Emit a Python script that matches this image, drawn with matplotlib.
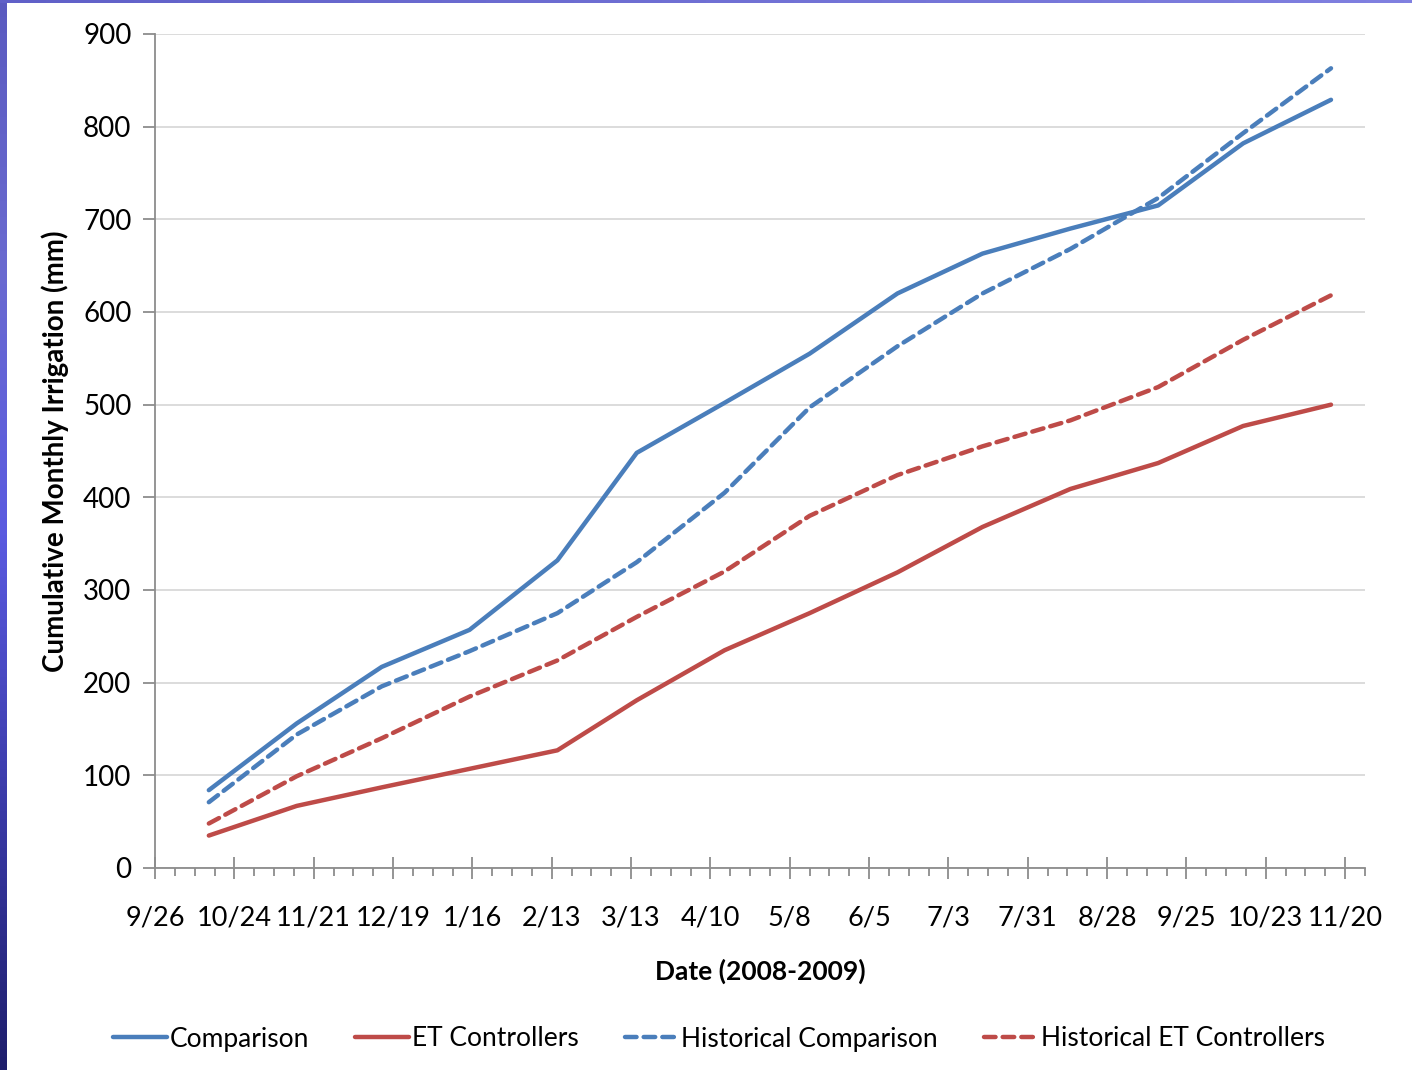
import datetime as dt
import numpy as np
import matplotlib
matplotlib.use("Agg")
import matplotlib.pyplot as plt
import matplotlib.dates as mdates

plt.rcParams['font.family'] = ['Lato', 'DejaVu Sans']

# monthly readings, mid-month, Oct 2008 - Nov 2009
dates = [dt.date(2008, 10, 15), dt.date(2008, 11, 15), dt.date(2008, 12, 15),
         dt.date(2009, 1, 15), dt.date(2009, 2, 15), dt.date(2009, 3, 15),
         dt.date(2009, 4, 15), dt.date(2009, 5, 15), dt.date(2009, 6, 15),
         dt.date(2009, 7, 15), dt.date(2009, 8, 15), dt.date(2009, 9, 15),
         dt.date(2009, 10, 15), dt.date(2009, 11, 15)]

comparison = [84, 156, 217, 257, 332, 448, 502, 555, 620, 663, 690, 715, 782, 829]
et_controllers = [35, 67, 87, 107, 127, 181, 235, 275, 319, 368, 409, 437, 477, 500]
hist_comparison = [71, 144, 196, 234, 275, 330, 405, 497, 563, 620, 668, 723, 793, 863]
hist_et = [48, 99, 140, 185, 224, 271, 320, 380, 424, 455, 483, 519, 570, 618]

blue = '#4a7ebb'
red = '#be4b48'

fig = plt.figure(figsize=(14.12, 10.7), dpi=100)

# slide frame: gradient strip down the left, thin band across the top
left = fig.add_axes([0, 0, 7 / 1412, 1])
grad = np.linspace(0, 1, 256).reshape(-1, 1)
cm = matplotlib.colors.LinearSegmentedColormap.from_list(
    'frame', ['#1e1e6c', '#3a3aa8', '#5a5ae0', '#6a6ad0', '#5a5ac0'])
left.imshow(grad, aspect='auto', cmap=cm, origin='lower', extent=[0, 1, 0, 1])
left.axis('off')
top = fig.add_axes([0, 1 - 3 / 1070, 1, 3 / 1070])
top.imshow(np.linspace(0, 1, 256).reshape(1, -1), aspect='auto',
           cmap=matplotlib.colors.LinearSegmentedColormap.from_list('t', ['#6060c8', '#8080e0']),
           extent=[0, 1, 0, 1])
top.axis('off')

ax = fig.add_axes([155 / 1412, 1 - 868 / 1070, 1210 / 1412, 834 / 1070])

lw = 3.2
ax.plot(dates, comparison, color=blue, lw=lw, label='Comparison', solid_capstyle='round')
ax.plot(dates, et_controllers, color=red, lw=lw, label='ET Controllers', solid_capstyle='round')
ax.plot(dates, hist_comparison, color=blue, lw=lw, ls=(0, (2.6, 1.6)),
        label='Historical Comparison', dash_capstyle='round')
ax.plot(dates, hist_et, color=red, lw=lw, ls=(0, (2.6, 1.6)),
        label='Historical ET Controllers', dash_capstyle='round')

ax.set_xlim(dt.date(2008, 9, 26), dt.date(2009, 11, 26))
ax.set_ylim(0, 900)
ax.set_yticks(range(0, 901, 100))

start = dt.date(2008, 9, 26)
major = [start + dt.timedelta(days=28 * i) for i in range(16)]
minor = [start + dt.timedelta(days=7 * i) for i in range(62)]
ax.set_xticks(major)
ax.set_xticks(minor, minor=True)
ax.xaxis.set_major_formatter(mdates.DateFormatter('%-m/%-d'))

ax.grid(axis='y', color='#d9d9d9', lw=1.3)
ax.set_axisbelow(True)
for s in ['top', 'right']:
    ax.spines[s].set_visible(False)
for s in ['left', 'bottom']:
    ax.spines[s].set_color('#8c8c8c')
    ax.spines[s].set_linewidth(1.3)

ax.tick_params(axis='y', length=9, width=1.3, color='#8c8c8c', labelsize=20, pad=8)
ax.tick_params(axis='x', which='major', direction='inout', length=16, width=1.3,
               color='#8c8c8c', labelsize=19.5, pad=19)
ax.tick_params(axis='x', which='minor', direction='out', length=6, width=1.3, color='#8c8c8c')

ax.set_ylabel('Cumulative Monthly Irrigation (mm)', fontsize=20, fontweight='bold', labelpad=10)
ax.set_xlabel('Date (2008-2009)', fontsize=19, fontweight='bold', labelpad=20)

fig.legend(loc='center', bbox_to_anchor=(0.509, 1 - 1039 / 1070), ncol=4, frameon=False,
           fontsize=19, handlelength=2.05, handletextpad=0.1, columnspacing=1.75)

fig.savefig('out.png', dpi=100)
